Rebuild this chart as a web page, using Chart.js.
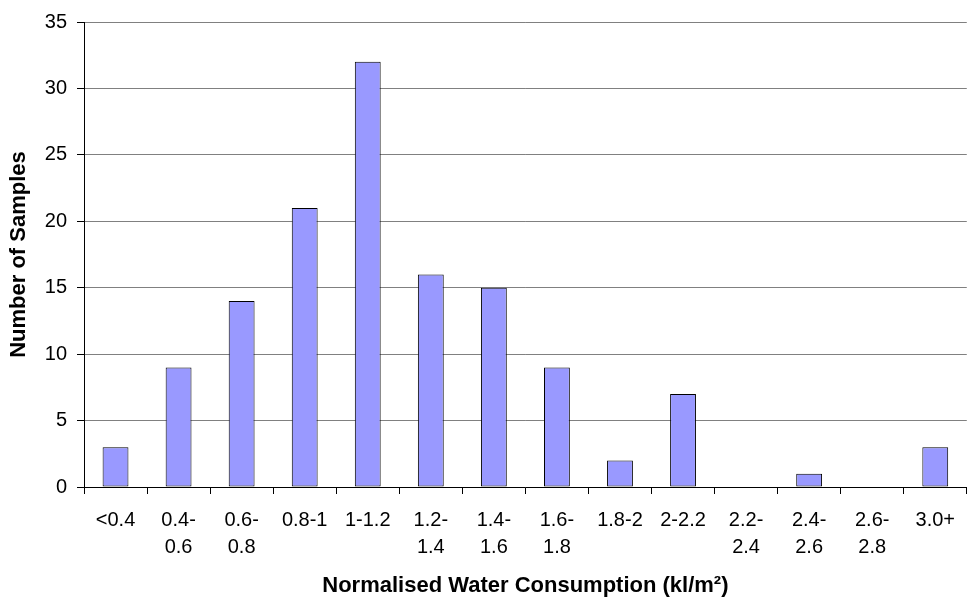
<!DOCTYPE html>
<html>
<head>
<meta charset="utf-8">
<title>Normalised Water Consumption</title>
<script src="https://cdn.jsdelivr.net/npm/chart.js@4/dist/chart.umd.min.js"></script>
<style>
  html, body { margin: 0; padding: 0; background: #fff; }
  canvas { display: block; }
</style>
</head>
<body>
<canvas id="hist-chart" width="968" height="599"></canvas>
<script>
// bins (kl/m²) and sample counts
const binLabels = [
  '<0.4', ['0.4-', '0.6'], ['0.6-', '0.8'], '0.8-1', '1-1.2',
  ['1.2-', '1.4'], ['1.4-', '1.6'], ['1.6-', '1.8'], '1.8-2', '2-2.2',
  ['2.2-', '2.4'], ['2.4-', '2.6'], ['2.6-', '2.8'], '3.0+'
];
const sampleCounts = [3, 9, 14, 21, 32, 16, 15, 9, 2, 7, 0, 1, 0, 3];
const yTicks = [0, 5, 10, 15, 20, 25, 30, 35];

Chart.defaults.font.family = "'Liberation Sans', Arial, sans-serif";
Chart.defaults.color = '#000';

const canvas = document.getElementById('hist-chart');

new Chart(canvas, {
  type: 'bar',
  data: {
    labels: binLabels,
    datasets: [{
      label: 'Number of Samples',
      data: sampleCounts,
      backgroundColor: '#9999ff',
      borderColor: '#000',
      borderWidth: 1,
      borderSkipped: false,
      categoryPercentage: 1.0,
      barPercentage: 0.41
    }]
  },
  options: {
    responsive: false,
    animation: false,
    layout: { padding: { top: 17, right: 0, bottom: 0, left: 0 } },
    plugins: { legend: { display: false }, tooltip: { enabled: false } },
    scales: {
      x: {
        grid: { offset: true, drawOnChartArea: false, tickLength: 7, tickColor: '#000' },
        border: { color: '#000' },
        ticks: { font: { size: 20, lineHeight: 1.35 }, padding: 13, maxRotation: 0, autoSkip: false },
        title: {
          display: true,
          text: 'Normalised Water Consumption (kl/m²)',
          font: { size: 22, weight: 'bold' },
          padding: { top: 0, bottom: 0 }
        },
        afterFit: (scale) => { scale.height = 112; }
      },
      y: {
        min: yTicks[0],
        max: yTicks[yTicks.length - 1],
        grid: { color: '#808080', tickLength: 7, tickColor: '#000' },
        border: { color: '#000' },
        ticks: { stepSize: yTicks[1] - yTicks[0], font: { size: 20 }, padding: 10 },
        title: {
          display: true,
          text: 'Number of Samples',
          font: { size: 22, weight: 'bold' },
          padding: { top: 6, bottom: 0 }
        },
        afterFit: (scale) => { scale.width = 84; }
      }
    }
  }
});
</script>
</body>
</html>
